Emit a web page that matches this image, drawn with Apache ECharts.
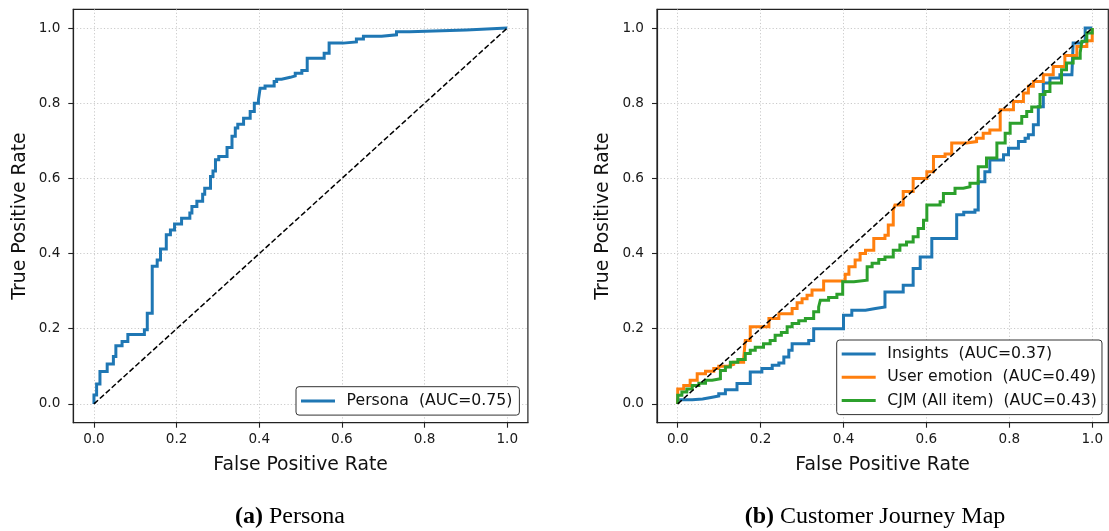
<!DOCTYPE html>
<html>
<head>
<meta charset="utf-8">
<script src="https://cdn.jsdelivr.net/npm/echarts@6/dist/echarts.min.js"></script>
<style>html,body{margin:0;padding:0;background:#fff;}#c{width:1109px;height:531px;}</style>
</head>
<body>
<div id="c"></div>
<script>
// ---- data ----
const tickValues = [0, 0.2, 0.4, 0.6, 0.8, 1.0];
const tickLabels = ['0.0', '0.2', '0.4', '0.6', '0.8', '1.0'];

const personaName = 'Persona  (AUC=0.75)';
const personaFpr = [0,0,0.0064,0.0145,0.032,0.047,0.053,0.068,0.082,0.122,0.129,0.141,0.153,0.161,0.175,0.185,0.195,0.212,0.232,0.237,0.249,0.263,0.268,0.282,0.288,0.294,0.302,0.322,0.334,0.342,0.348,0.362,0.378,0.388,0.398,0.402,0.414,0.436,0.442,0.454,0.475,0.487,0.503,0.516,0.557,0.569,0.603,0.635,0.652,0.696,0.732,0.764,0.901,1];
const personaTpr = [0,0.024,0.053,0.086,0.106,0.126,0.155,0.166,0.185,0.197,0.241,0.366,0.383,0.412,0.45,0.463,0.479,0.494,0.508,0.525,0.539,0.558,0.574,0.605,0.62,0.65,0.658,0.682,0.712,0.734,0.744,0.76,0.778,0.80,0.809,0.84,0.846,0.858,0.864,0.869,0.873,0.88,0.887,0.92,0.933,0.96,0.963,0.971,0.978,0.982,0.99,0.995,1.0,1.0];

const insightsName = 'Insights  (AUC=0.37)';
const insightsFpr = [0,0,0.035,0.06,0.08,0.099,0.115,0.143,0.175,0.203,0.228,0.244,0.256,0.268,0.276,0.316,0.328,0.40,0.42,0.453,0.477,0.50,0.544,0.568,0.585,0.613,0.673,0.69,0.717,0.725,0.741,0.753,0.786,0.798,0.822,0.838,0.846,0.858,0.87,0.882,0.898,0.922,0.951,0.954,0.971,0.983,1];
const insightsTpr = [0,0.011,0.013,0.017,0.021,0.027,0.038,0.054,0.085,0.094,0.103,0.109,0.125,0.143,0.16,0.169,0.2,0.236,0.249,0.254,0.258,0.298,0.316,0.36,0.391,0.44,0.503,0.51,0.516,0.591,0.618,0.649,0.663,0.68,0.698,0.707,0.716,0.743,0.791,0.854,0.867,0.876,0.88,0.96,0.965,1.0,1.0];

const emotionName = 'User emotion  (AUC=0.49)';
const emotionFpr = [0,0,0.0145,0.03,0.047,0.067,0.087,0.099,0.12,0.135,0.159,0.163,0.175,0.22,0.244,0.276,0.288,0.30,0.312,0.324,0.352,0.404,0.413,0.428,0.44,0.453,0.473,0.50,0.508,0.52,0.524,0.544,0.568,0.601,0.617,0.645,0.661,0.697,0.721,0.737,0.753,0.778,0.81,0.834,0.846,0.858,0.882,0.906,0.934,0.963,0.987,1];
const emotionTpr = [0,0.04,0.049,0.063,0.08,0.087,0.094,0.10,0.105,0.111,0.12,0.169,0.205,0.227,0.24,0.254,0.269,0.28,0.289,0.303,0.327,0.345,0.365,0.383,0.40,0.409,0.44,0.449,0.476,0.516,0.529,0.565,0.60,0.618,0.658,0.665,0.694,0.698,0.707,0.72,0.729,0.783,0.805,0.827,0.845,0.858,0.876,0.898,0.927,0.951,0.966,1.0];

const cjmName = 'CJM (All item)  (AUC=0.43)';
const cjmFpr = [0,0,0.01,0.022,0.035,0.051,0.067,0.083,0.103,0.115,0.127,0.145,0.163,0.175,0.187,0.207,0.223,0.235,0.25,0.264,0.276,0.292,0.308,0.328,0.34,0.344,0.364,0.384,0.398,0.425,0.457,0.469,0.485,0.50,0.52,0.536,0.552,0.568,0.58,0.593,0.601,0.633,0.641,0.669,0.689,0.705,0.725,0.745,0.77,0.79,0.802,0.83,0.842,0.854,0.874,0.886,0.898,0.926,0.938,0.954,0.971,0.975,0.987,1];
const cjmTpr = [0,0.023,0.032,0.04,0.049,0.055,0.063,0.067,0.089,0.098,0.111,0.118,0.134,0.143,0.151,0.16,0.169,0.183,0.19,0.205,0.214,0.221,0.227,0.245,0.258,0.276,0.283,0.292,0.325,0.329,0.365,0.374,0.384,0.391,0.409,0.423,0.431,0.445,0.467,0.489,0.529,0.538,0.56,0.574,0.578,0.587,0.631,0.654,0.694,0.72,0.747,0.765,0.778,0.79,0.823,0.831,0.854,0.889,0.907,0.92,0.934,0.965,0.987,1.0];

const chanceFpr = [0, 1];
const chanceTpr = [0, 1];

const xTitle = 'False Positive Rate';
const yTitle = 'True Positive Rate';
const captionA = ['(a)', 'Persona'];
const captionB = ['(b)', 'Customer Journey Map'];

// ---- build ----
const zip = (a, b) => a.map((v, i) => [v, b[i]]);
// ROC staircase: move right at the previous TPR, then up to the new TPR
function stairs(fpr, tpr) {
  const out = [[fpr[0], tpr[0]]];
  for (let i = 1; i < fpr.length; i++) {
    out.push([fpr[i], tpr[i - 1]]);
    out.push([fpr[i], tpr[i]]);
  }
  return out;
}
const FONT = 'DejaVu Sans';
const frameColor = '#222';
const fmt = v => { const i = tickValues.findIndex(t => Math.abs(t - v) < 1e-6); return i >= 0 ? tickLabels[i] : ''; };

function xAxis(gi, max) {
  return {
    type: 'value', gridIndex: gi, min: -0.05, max: max,
    name: xTitle, nameLocation: 'middle', nameGap: 33,
    nameTextStyle: { fontFamily: FONT, fontSize: 18.8, color: '#111' },
    axisLine: { show: true, onZero: false, lineStyle: { color: frameColor, width: 1.2 } },
    axisTick: { show: true, length: 5, customValues: tickValues, lineStyle: { color: frameColor, width: 1.1 } },
    axisLabel: { show: true, margin: 10, customValues: tickValues, fontFamily: FONT, fontSize: 13.6, color: '#1a1a1a', formatter: fmt },
    splitLine: { show: true, lineStyle: { color: '#c4c4c4', width: 0.9, type: [1.2, 2.2] } }
  };
}
function yAxis(gi) {
  return {
    type: 'value', gridIndex: gi, min: -0.05, max: 1.05,
    name: yTitle, nameLocation: 'middle', nameGap: 44,
    nameTextStyle: { fontFamily: FONT, fontSize: 18.8, color: '#111' },
    axisLine: { show: true, onZero: false, lineStyle: { color: frameColor, width: 1.2 } },
    axisTick: { show: true, length: 5, customValues: tickValues, lineStyle: { color: frameColor, width: 1.1 } },
    axisLabel: { show: true, margin: 13, customValues: tickValues, fontFamily: FONT, fontSize: 13.6, color: '#1a1a1a', formatter: fmt },
    splitLine: { show: true, lineStyle: { color: '#c4c4c4', width: 0.9, type: [1.2, 2.2] } }
  };
}
function curve(name, fpr, tpr, color, gi) {
  return {
    type: 'line', name: name, xAxisIndex: gi, yAxisIndex: gi,
    data: stairs(fpr, tpr), showSymbol: false, symbol: 'none',
    lineStyle: { color: color, width: 3, join: 'miter' }, itemStyle: { color: color },
    emphasis: { disabled: true }, animation: false, z: 3
  };
}
function chance(gi) {
  return {
    type: 'line', name: 'chance' + gi, xAxisIndex: gi, yAxisIndex: gi,
    data: zip(chanceFpr, chanceTpr), showSymbol: false, symbol: 'none',
    lineStyle: { color: '#000', width: 1.5, type: [5.5, 2.5] },
    emphasis: { disabled: true }, animation: false, z: 4, silent: true
  };
}
const legendCommon = {
  orient: 'vertical', icon: 'rect', itemWidth: 34, itemHeight: 3, itemGap: 5.3,
  backgroundColor: '#fff', borderColor: '#333', borderWidth: 1, borderRadius: 3,
  textStyle: { fontFamily: FONT, fontSize: 15.7, color: '#111', lineHeight: 18, padding: [0, 0, 0, 6.6] },
  selectedMode: false
};

const gridCommon = { show: true, borderColor: frameColor, borderWidth: 1.2, backgroundColor: '#fff',
  containLabel: false, outerBoundsMode: 'none' };

const capStyle = (parts) => ({
  text: '{b|' + parts[0] + '} ' + parts[1], textAlign: 'center', textVerticalAlign: 'middle',
  fontFamily: 'Liberation Serif', fontSize: 24, fill: '#000',
  rich: { b: { fontFamily: 'Liberation Serif', fontWeight: 'bold', fontSize: 24 } }
});

const option = {
  animation: false,
  backgroundColor: '#fff',
  grid: [
    Object.assign({ left: 73.3, top: 9.3, width: 454.6, height: 413.4 }, gridCommon),
    Object.assign({ left: 657.0, top: 9.3, width: 451.3, height: 413.4 }, gridCommon)
  ],
  xAxis: [xAxis(0, 1.05), xAxis(1, 1.0388)],
  yAxis: [yAxis(0), yAxis(1)],
  legend: [
    Object.assign({}, legendCommon, { left: 296, top: 386.7, padding: [5.2, 7, 5.2, 5], data: [personaName] }),
    Object.assign({}, legendCommon, { left: 836.7, top: 340, padding: [5, 5, 5, 5], data: [insightsName, emotionName, cjmName] })
  ],
  series: [
    curve(personaName, personaFpr, personaTpr, '#1f77b4', 0),
    chance(0),
    curve(insightsName, insightsFpr, insightsTpr, '#1f77b4', 1),
    curve(emotionName, emotionFpr, emotionTpr, '#ff7f0e', 1),
    curve(cjmName, cjmFpr, cjmTpr, '#2ca02c', 1),
    chance(1)
  ],
  graphic: [
    { type: 'text', x: 290, y: 517, style: capStyle(captionA) },
    { type: 'text', x: 875, y: 517, style: capStyle(captionB) }
  ]
};
const chart = echarts.init(document.getElementById('c'), null, { renderer: 'canvas' });
chart.setOption(option);
</script>
</body>
</html>
